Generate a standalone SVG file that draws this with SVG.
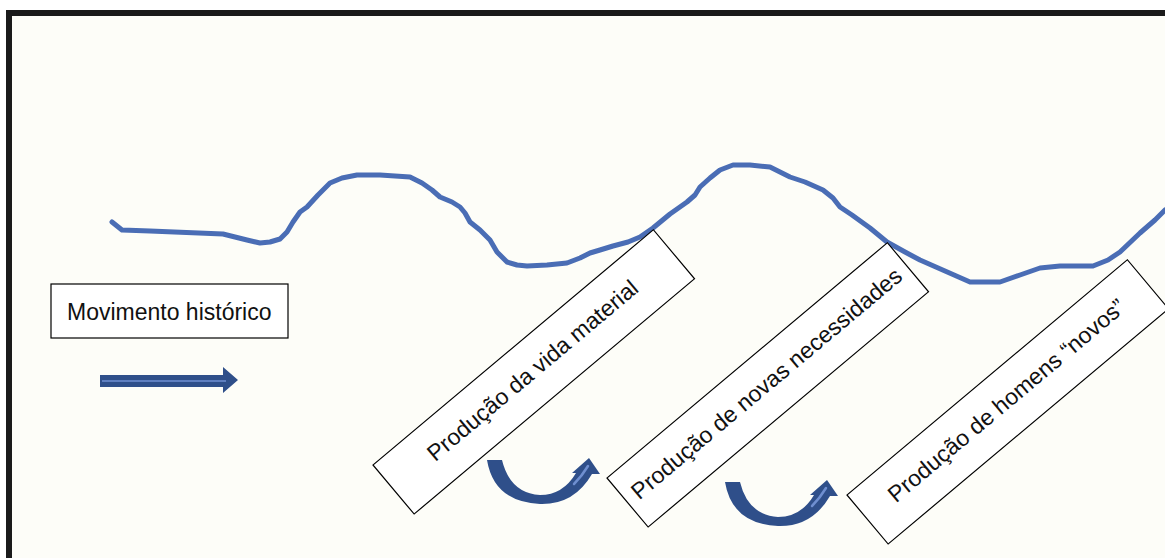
<svg xmlns="http://www.w3.org/2000/svg" width="1165" height="558" viewBox="0 0 1165 558">
<style>
.box{fill:#ffffff;stroke:#000;stroke-width:1.2}
.lbl{font-family:"Liberation Sans",Arial,sans-serif;font-size:23px;fill:#111}
.wave{fill:none;stroke:#4A6DB5;stroke-width:5;stroke-linejoin:round;stroke-linecap:round}
.arr{fill:#2F4F8A}
.hl{fill:none;stroke:#6F8FD0;stroke-width:2.5;stroke-linecap:round}
</style>
<defs>
<g id="curved">
<path class="arr" d="M487,460 L502,460 Q510,493 540,495 Q563,495 576,473 L572,473 L589,458 L600,474 L592,474 Q574,505 540,504 Q494,502 487,460 Z"/>
<path class="hl" d="M574,484 Q582,476 588,466"/>
</g>
</defs>
<rect x="0" y="0" width="1165" height="558" fill="#ffffff"/>
<rect id="frame" x="9" y="13" width="1200" height="600" fill="#FDFDF8" stroke="#1a1a1a" stroke-width="6"/>
<g id="connectors">
<polyline class="wave" points="112,222 122,230 150,231 223,234 235,237 247,240 260,243 270,242 280,239 287,232 293,222 300,212 307,207 318,195 330,183 342,178 357,175 380,175 410,177 422,183 432,190 440,197 452,202 460,207 465,213 470,222 480,230 490,240 497,252 507,262 517,265 527,266 547,265 567,263 580,258 590,253 600,250 613,246 628,242 640,237 653,228 670,214 687,202 695,195 700,187 710,178 720,170 733,165 750,165 770,167 790,177 805,182 823,190 833,198 840,207 852,215 870,228 887,242 905,252 920,260 945,271 970,282 1000,282 1020,275 1040,268 1060,266 1093,266 1108,260 1120,252 1140,233 1155,220 1165,210"/>
<g id="straight-arrow">
<polygon class="arr" points="100,375 223,375 223,367 238,380 223,393 223,387 100,387"/>
<line x1="102" y1="381" x2="226" y2="381" stroke="#5F7FC0" stroke-width="2"/>
</g>
<use href="#curved"/>
<use href="#curved" transform="translate(238,22)"/>
</g>
<g id="movimento">
<rect class="box" x="51" y="284" width="237" height="54"/>
<text class="lbl" x="67" y="320">Movimento histórico</text>
</g>
<g id="vida-material" transform="translate(373,465) rotate(-40)">
<rect class="box" x="0" y="0" width="366" height="64"/>
<text class="lbl" x="183" y="38" text-anchor="middle">Produção da vida material</text>
</g>
<g id="novas-necessidades" transform="translate(607,478) rotate(-40)">
<rect class="box" x="0" y="0" width="366" height="64"/>
<text class="lbl" x="183" y="38" text-anchor="middle">Produção de novas necessidades</text>
</g>
<g id="homens-novos" transform="translate(847,495) rotate(-40)">
<rect class="box" x="0" y="0" width="366" height="64"/>
<text class="lbl" x="183" y="38" text-anchor="middle">Produção de homens “novos”</text>
</g>
</svg>
